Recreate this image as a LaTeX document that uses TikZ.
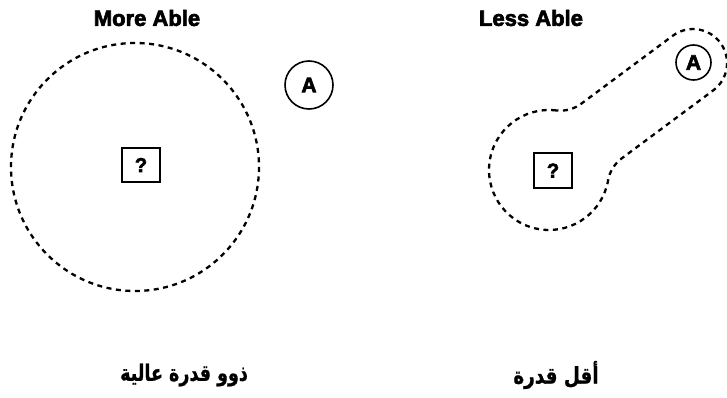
\documentclass[tikz,border=0pt]{standalone}
\usepackage{fontspec}
\setmainfont{Liberation Sans}
\newfontfamily\heavyfont[BoldFeatures={FakeBold=3}]{Liberation Sans}
\newfontfamily\arabicfont[Script=Arabic,BoldFeatures={FakeBold=1}]{DejaVu Sans}
\TeXXeTstate=1
\begin{document}
\begin{tikzpicture}[x=1pt,y=-1pt,
  title/.style={font=\heavyfont\fontsize{22}{24}\selectfont\bfseries, inner sep=0pt},
  arlabel/.style={font=\arabicfont\fontsize{17.5}{22}\selectfont\bfseries, inner sep=0pt},
  qbox/.style={draw, line width=2pt, minimum width=38pt, minimum height=34pt, inner sep=0pt, font=\heavyfont\fontsize{20}{22}\selectfont\bfseries},
  acircle/.style={draw, circle, line width=1.6pt, inner sep=0pt, font=\heavyfont\fontsize{21}{22}\selectfont\bfseries},
  dashline/.style={line width=2.3pt, dash pattern=on 5pt off 4.5pt}]
\useasboundingbox (0,0) rectangle (727,398);
% left
\node[title] (t1) at (147,18) {More Able};
\draw[dashline] (135,167) circle[radius=124];
\node[qbox] (q1) at (141,165) {?};
\node[acircle, minimum size=48pt] (a1) at (309,85) {A};
\node[arlabel] (l1) at (184,375) {\scalebox{1}[1.3]{\beginR ذوو قدرة عالية\endR}};
% right
\node[title] (t2) at (531,18) {Less Able};
\begin{scope}[shift={(549,170)}, x=1pt, y=1pt, rotate=36.6]
  \draw[dashline] (46.6:60) arc[start angle=46.6, end angle=313.4, radius=60]
    arc[start angle=133.4, end angle=90, radius=35]
    -- (179.4,-34) arc[start angle=-90, end angle=90, radius=34]
    -- (65.3,34) arc[start angle=270, end angle=226.6, radius=35] -- cycle;
\end{scope}
\node[qbox] (q2) at (553,170.5) {?};
\node[acircle, minimum size=35pt] (a2) at (693.5,62.5) {A};
\node[arlabel] (l2) at (556,375) {\scalebox{1.05}[1.3]{\beginR أقل قدرة\endR}};
\end{tikzpicture}
\end{document}
